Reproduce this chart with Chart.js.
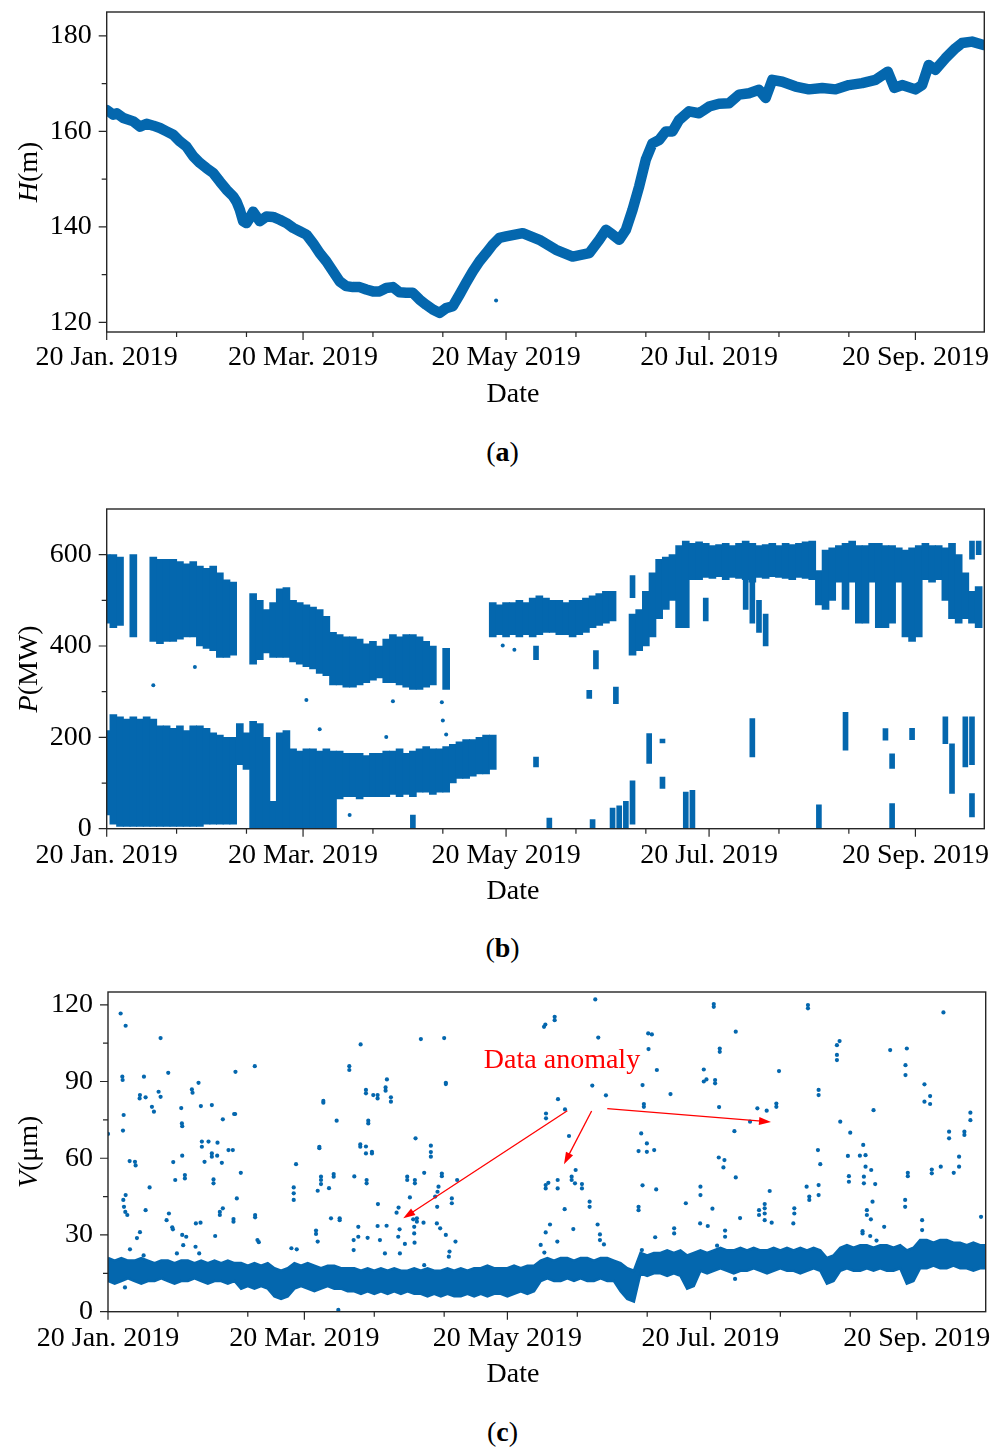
<!DOCTYPE html>
<html>
<head>
<meta charset="utf-8">
<title>Water level, output and vibration, 2019</title>
<script src="https://cdn.jsdelivr.net/npm/chart.js@4.4.1/dist/chart.umd.min.js"></script>
<style>
  body { margin: 0; background: #fff; }
  #page { position: relative; width: 999px; height: 1447px; overflow: hidden; font-family: "Liberation Serif", "Times New Roman", serif; }
  .panel { position: absolute; left: 0; }
  .caption { position: absolute; left: 0; width: 1005px; text-align: center; font-size: 28px; line-height: 32px; color: #000; }
</style>
</head>
<body>
<div id="page">
  <canvas id="chartH" class="panel" width="999" height="420" style="top:0"></canvas>
  <div class="caption" style="top:436px">(<b>a</b>)</div>
  <canvas id="chartP" class="panel" width="999" height="420" style="top:490px"></canvas>
  <div class="caption" style="top:932px">(<b>b</b>)</div>
  <canvas id="chartV" class="panel" width="999" height="420" style="top:980px"></canvas>
  <div class="caption" style="top:1416px">(<b>c</b>)</div>
</div>
<script>
var BLUE = "#0467ae";
var FONT = '"Liberation Serif", "Times New Roman", serif';

// x axis = days after 20 Jan. 2019
var dateTicks = [0, 59, 120, 181, 243];
var dateLabels = ["20 Jan. 2019", "20 Mar. 2019", "20 May 2019", "20 Jul. 2019", "20 Sep. 2019"];
var dateMinor = [21, 42, 80, 101, 141, 162, 202, 223];
var lastDay = 263.7;

// (a) water level H (m)
var levelDays = [0,2,3,5,8,10,12,14,16,18,20,22,24,26,28,30,32,34,36,38,39,40,41,42,43,44,45,46,48,50,
  52,54,56,58,60,62,64,66,68,70,72,74,76,78,80,82,84,86,88,90,92,94,96,98,100,102,104,106,108,110,
  112,114,116,118,120,125,130,135,140,145,148,150,152,154,156,158,160,162,164,166,168,170,172,175,178,181,184,187,190,193,
  196,198,200,203,207,211,215,219,223,227,231,234.7,236.7,239,243,245,247,249,252,255,257,260,263.5];
var levelValues = [164.5,163.5,163.8,162.8,162.1,161.0,161.6,161.2,160.7,160.0,159.3,157.9,156.8,154.8,153.4,152.3,151.3,149.5,147.8,146.4,145.3,143.6,141.2,140.8,141.9,143.2,142.2,141.2,142.2,142.1,
  141.5,140.8,139.8,139.1,138.4,136.6,134.5,132.8,130.7,128.6,127.6,127.4,127.4,126.9,126.5,126.5,127.2,127.4,126.3,126.2,126.2,124.8,123.7,122.7,122.0,123.0,123.4,125.8,128.3,130.7,
  132.8,134.5,136.3,137.7,138.0,138.7,137.3,135.2,133.8,134.5,137.3,139.4,138.4,137.3,139.4,143.6,148.5,154.1,157.5,158.2,160.0,160.0,162.4,164.2,163.8,165.2,165.8,165.9,167.7,168.0,
  168.7,167.0,170.8,170.4,169.4,168.8,169.1,168.8,169.7,170.1,170.8,172.5,169.1,169.7,168.8,169.7,173.9,172.9,175.3,177.4,178.5,178.8,178.1];
var levelOddDays = [117];
var levelOddValues = [124.6];

// (b) output P (MW): band ranges every 2 days
var bandDays = [0,2,4,6,8,10,12,14,16,18,20,22,24,26,28,30,32,34,36,38,40,42,44,46,48,50,52,54,56,58,
  60,62,64,66,68,70,72,74,76,78,80,82,84,86,88,90,92,94,96,98,100,102,104,106,108,110,112,114,116,118,
  120,122,124,126,128,130,132,134,136,138,140,142,144,146,148,150,152,154,156,158,160,162,164,166,168,170,172,174,176,178,
  180,182,184,186,188,190,192,194,196,198,200,202,204,206,208,210,212,214,216,218,220,222,224,226,228,230,232,234,236,238,
  240,242,244,246,248,250,252,254,256,258,260,262,264];
var upperLo = [450,440,445,null,420,null,null,410,405,410, 410,415,420,420,400,395,390,375,375,380,
  null,null,360,370,385,375,375,375,365,360, 355,350,340,335,315,315,310,310,315,320,
  325,330,320,320,315,310,305,305,310,315, null,305,null,null,null,null,null,null,420,425,
  420,425,420,425,420,425,430,430,425,425, 420,425,430,440,445,450,455,null,null,380,
  390,400,420,460,480,500,440,440,545,545, 550,548,552,545,550,548,545,540,550,548,
  552,550,548,545,550,548,545,490,480,500, 540,480,540,450,450,540,440,440,450,540,
  420,410,420,545,540,545,500,460,450,460, 450,440,null];
var upperHi = [600,600,595,null,600,null,null,595,590,590, 590,585,580,585,575,570,575,560,545,540,
  null,null,515,500,480,495,525,528,500,495, 490,485,480,465,430,425,420,420,415,405,
  410,400,415,425,420,425,425,420,410,400, null,395,null,null,null,null,null,null,495,490,
  495,495,500,495,505,510,505,500,500,495, 500,500,505,510,515,520,520,null,null,470,
  480,520,560,590,595,600,620,630,625,628, 625,620,622,625,620,625,630,625,620,622,
  625,620,625,622,625,628,630,565,610,615, 620,625,630,620,620,625,625,620,620,615,
  610,615,620,625,620,620,615,625,600,560, 520,530,null];
var lowerLo = [30,10,5,5,5,5,5,5,5,5, 5,5,5,5,5,10,10,10,10,10,
  140,130,0,0,0,0,0,0,0,0, 0,0,0,0,0,65,70,70,65,70,
  70,70,70,75,70,75,70,80,80,75, 80,80,100,110,110,115,120,120,130];
var lowerHi = [215,250,245,240,245,240,245,240,225,225, 220,225,215,225,225,220,210,205,200,200,
  230,210,235,230,200,60,210,215,175,170, 175,175,170,175,170,170,165,165,165,160,
  165,165,170,170,175,165,170,175,180,175, 175,180,185,190,195,195,200,205,205];
// smaller streaks of points
var clusterDays = [92,129,129,133,145,146,147,152,153,154,156,158,158,163,167,167,174,176,180,192,
  194,194,196,198,214,222,234,236,236,242,252,254,258,260,260,260,262];
var clusterLo = [0,135,370,0,285,0,350,0,274,0,0,10,506,143,88,188,0,0,455,480,
  450,157,430,400,0,172,194,132,0,195,186,77,135,140,26,590,600];
var clusterHi = [30,157,400,23,303,20,390,45,310,50,60,105,554,208,113,196,80,84,505,545,
  540,241,500,470,52,255,219,164,55,220,245,186,245,245,77,630,630];
var strayDays = [14,26.5,60,64,84,86,100.7,101,102,73,119,122.5];
var strayValues = [314,354,282,218,201,279,277,237,206,30,401,392];

// (c) vibration V (um): normal band every 2 days
var normalLo = [12,11,12,13,12,11,12,12,13,12,11,12,12,13,12,11,12,12,11,12,
  9,10,9,10,9, 6,5,6, 9,10,9,8,9,10,9,9,8, 8,7,8,7,8,7,8,7,8,7,
  7,6,7,6,7,6,6,7,6,7,6,7, 7,6,7,8,7,8, 12,13,12,12,13,12,13,12,12,13,12,12,
  8,5,4, 15,14,15,15,14,15,14, 9,10, 16,15,16,17,16,15,16,16,17,16,15,16,17,16,16,15,16,17,16,
  11,12, 16,17,16,16,17,16,17,16,16,17, 11,12, 17,17,18,17,17,18,17,17,16,17,17];
var normalHi = [21,20,21,20,20,21,20,19,20,20,19,20,20,19,20,19,20,19,20,19,
  19,18,19,18,19, 17,16,17, 19,18,19,18,17,18,18,17,17, 17,16,17,16,17,16,17,16,16,17,
  16,17,16,16,17,16,17,16,17,17,18,17, 17,17,18,17,18,18, 20,21,20,21,21,20,21,21,20,21,21,20,
  19,17,16, 23,22,23,23,24,23,24, 22,23, 24,23,24,25,24,24,25,24,25,24,24,25,24,25,24,25,24,25,24,
  21,22, 25,26,25,26,26,25,26,26,25,26, 24,25, 28,28,27,28,28,27,27,26,27,26,26];
var anomalyDays = [0,3.8,5.3,4.3,4.4,4.7,4.5,4.6,4.8,5.2,
  5.8,5.3,6.5,8.1,8.3,5.1,6.6,8.7,9.6,10.8,
  9.6,9.5,11.3,11.3,12.5,10.7,13.2,13.8,15.2,15.8,
  15.8,18.1,17.6,18.3,19.3,19.5,19.6,20.2,20.7,22,
  22.2,22.3,22.3,22.3,22.6,23.5,23.1,23.1,25.2,25.4,
  26.4,27.2,26.3,27.4,27.9,28.2,28.2,29,27.8,30.2,
  31.2,31.2,31.2,31.7,31.7,32.9,32.8,32.2,34.2,33.6,
  33.6,34.5,34.5,36.2,37.5,37.7,37.7,37.9,38.2,38.3,
  38.7,39.9,44.1,44.2,44.2,44.9,45.3,55.1,56.7,55.8,
  55.8,55.8,56.5,62.5,62.5,63,63.5,63.5,64,64,
  64,63,64.7,64.7,66.4,67,67.8,67.8,68.7,69.6,
  69.6,69.2,72.5,72.5,74,73.8,73.8,75.2,75.2,75.9,
  75.8,75.8,77.5,77.5,77.5,77.5,77.7,77.7,78.2,78.2,
  78,79.3,79.3,79.7,81,81,81.1,81.7,81,83.4,
  83.4,83.8,85,85,83.7,83.2,86.7,87.3,87.2,87.6,
  87.7,89.2,90.7,89.9,89.9,92.4,91.7,92.2,92.2,92,
  92,92.1,92.8,92.8,94,95,94.8,95,97,97,
  97,98.3,99,99.3,98.9,98.8,99.8,100.3,100.3,101,
  101.5,101.5,101.5,102.4,103.3,103.3,104.9,104.4,102.6,
  146.4,131,131.4,134.2,134.2,135.2,137.3,131.6,131.6,138.5,
  147.3,145.5,149.6,131.5,131.5,132.3,135.1,135.1,139.3,139.3,
  140.5,140.3,142.4,142.4,144.7,144.7,137.2,132.8,131.5,130,
  139.8,135,147.1,147.8,147.8,149,131.1,162.3,163.4,162.4,
  164.9,160.6,161,161,160.2,159.4,161.9,161.9,164.1,160.6,
  164.7,159.4,159.4,160.4,164.4,169,170.1,170.1,173.6,178,
  178,177.9,180.2,179,179,179.8,182.4,182.4,182,182,
  183.6,183.8,183.8,183.5,185.2,184.9,181.6,183,185.4,185.4,
  188.6,188.6,188.2,189.9,188.4,192.9,195.1,197.9,200.8,200.8,
  201.6,195.6,195.6,197.3,197.3,197.3,198.8,199.4,197.3,206.2,
  206.2,205.9,210.3,210.3,213.5,213.5,209.9,210.7,210.7,213.5,
  213.5,213.3,214,219,219,219,219.8,220,223,222.3,
  222.6,222.6,226.9,225.9,227.6,227.6,227.1,227.1,229.3,230.5,
  230,229.7,228,228,229.2,226.7,226.7,229,230.9,233.2,
  235,240,239.6,239.6,240.3,240.3,239.5,239.5,245.3,247,
  247,244.6,244.6,247.5,247.5,250.2,251,252.7,252.7,254.1,
  255.7,255.7,257.3,257.3,259.1,259.1,262.3,245.3];
var anomalyValues = [69.5,116.6,111.8,91.9,90.6,76.9,70.8,43.7,41,39,
  37.8,45.6,58.9,58.6,57.2,9.5,24.4,28.8,31.1,91.9,
  84.7,83.4,83.8,39.7,48.6,22,80.1,78.2,86,84,
  107,93.4,35.8,38.4,33,32.2,58.5,51.5,22.8,79.6,
  73.6,72.5,61,30,26,29.3,53.4,52.1,86.9,85.6,
  34.5,89.5,25.4,22.8,80.4,66.5,64.5,58.6,34.8,66.5,
  80.8,61.9,60.6,51.7,50.2,66.1,61,29.6,58.2,39,
  37.8,75.2,40.4,63.2,63.2,36.2,35.2,77.3,77.3,93.8,
  44.3,54.3,96,37.8,36.9,28,27.2,24.8,24.4,48.6,
  46.3,43.7,57.7,31.7,30.4,27.4,64.5,63.9,52.8,51.5,
  49.9,47.3,82.4,81.7,48.3,36.5,53.8,52.8,74.7,36.5,
  35.8,0.7,96,94.5,52.9,28,24.1,33.2,29.3,104.5,
  65.4,64.5,64.6,86.7,85.4,61.9,51.5,50.2,74.7,73.6,
  28.9,62.5,61.9,84.7,84.7,83.4,42.1,28,33.5,87.7,
  86.4,90.8,83.8,82.1,33.6,22.8,38.7,40.7,29.3,32.2,
  22.8,26.5,44.7,52.8,51.5,67.8,36.1,51.5,50.2,33.2,
  30.6,27,36.5,35.2,106.6,54.3,34.8,18.2,64.9,62.4,
  60.6,45,46.9,48.9,41,34.5,32.6,54,53,107,
  89.5,89,30,21.5,44.3,42.4,51.5,27.4,23.5,
  122.1,111.4,112.3,115.3,114,83.1,79.1,77.5,75.6,68.7,
  107.2,88.4,84.6,49.5,48.2,50.4,51.5,48.2,52.8,51.5,
  55.4,50.2,49.9,48.2,43,41,40.1,34.1,31,26.1,
  32.3,27.4,34.1,30.2,28,26.3,23.1,108.8,108.4,102.7,
  94.5,88.6,81.2,80.1,69.7,62.8,65.8,62.5,63.2,49.4,
  47.8,41,39.7,24.1,29.1,85.1,32.6,30.6,42.4,48.9,
  45.6,34.5,33.5,94.7,90,90.8,90.6,89.3,120.3,119.2,
  80,102.9,101.6,60.3,59.3,56.4,40.3,25.8,31.7,29.3,
  109.5,52.5,70.6,36.6,12.8,74.3,79.5,78.6,81.4,80.1,
  94.1,39.7,37.8,40.4,38.4,35.8,47.2,34.8,42.1,40.4,
  38.4,34.5,119.9,118.6,86.7,84.7,48.9,45,43.7,49.5,
  45.6,63.2,57.7,104.2,100.4,98.4,105.8,74.3,70,60.9,
  53,50.8,65.2,61,61.2,56.7,52.8,50.2,55.4,49.9,
  78.8,43,39.7,37.8,36.1,31.5,30.6,29.6,27.8,33.2,
  102.3,102.9,96.4,92.5,54.3,53,43.7,41,88.9,84.3,
  81.2,35.8,31.9,55.6,54.1,56.7,117,70.4,67.8,54.3,
  60.6,56.7,70.4,69.1,77.8,74.9,37.1,82.1];
// label and arrows, in data units [day, value]
var notePos = [136.4, 98];
var noteArrows = [[138.0, 78.6, 88.7, 36.5], [145.3, 78.5, 137.0, 57.7], [150.0, 79.4, 199.2, 74.2]];

function points(xs, ys) {
  var out = [];
  for (var i = 0; i < xs.length; i++) {
    if (ys[i] != null) out.push({ x: xs[i], y: ys[i] });
  }
  return out;
}
function ranges(xs, lo, hi) {
  var out = [];
  for (var i = 0; i < lo.length; i++) {
    if (lo[i] != null) out.push({ x: xs[i], y: [lo[i], hi[i]] });
  }
  return out;
}

// frame, outward ticks and axis titles
var decor = {
  id: "decor",
  afterDraw: function (chart, args, o) {
    var ctx = chart.ctx, a = chart.chartArea, x = chart.scales.x, y = chart.scales.y;
    ctx.save();
    ctx.strokeStyle = "#262626";
    ctx.lineWidth = 1.4;
    ctx.strokeRect(a.left, a.top, a.right - a.left, a.bottom - a.top);
    ctx.lineWidth = 1.2;
    ctx.beginPath();
    dateTicks.forEach(function (d) { var p = x.getPixelForValue(d); ctx.moveTo(p, a.bottom); ctx.lineTo(p, a.bottom + 8); });
    dateMinor.forEach(function (d) { var p = x.getPixelForValue(d); ctx.moveTo(p, a.bottom); ctx.lineTo(p, a.bottom + 5); });
    o.yMajor.forEach(function (v) { var p = y.getPixelForValue(v); ctx.moveTo(a.left, p); ctx.lineTo(a.left - 8, p); });
    o.yMinor.forEach(function (v) { var p = y.getPixelForValue(v); ctx.moveTo(a.left, p); ctx.lineTo(a.left - 5, p); });
    ctx.stroke();

    ctx.fillStyle = "#000";
    ctx.textBaseline = "middle";
    ctx.textAlign = "center";
    ctx.font = "28px " + FONT;
    ctx.fillText("Date", 513, o.dateY);

    ctx.translate(30, (a.top + a.bottom) / 2);
    ctx.rotate(-Math.PI / 2);
    ctx.textAlign = "left";
    ctx.font = "italic 28px " + FONT;
    var w1 = ctx.measureText(o.symbol).width;
    ctx.font = "28px " + FONT;
    var w2 = ctx.measureText(o.unit).width;
    ctx.font = "italic 28px " + FONT;
    ctx.fillText(o.symbol, -(w1 + w2) / 2, 0);
    ctx.font = "28px " + FONT;
    ctx.fillText(o.unit, -(w1 + w2) / 2 + w1, 0);
    ctx.restore();
  }
};

var anomalyNote = {
  id: "anomalyNote",
  afterDatasetsDraw: function (chart) {
    var ctx = chart.ctx, x = chart.scales.x, y = chart.scales.y;
    ctx.save();
    ctx.fillStyle = "#ff0000";
    ctx.strokeStyle = "#ff0000";
    ctx.font = "28px " + FONT;
    ctx.textAlign = "center";
    ctx.textBaseline = "middle";
    ctx.fillText("Data anomaly", x.getPixelForValue(notePos[0]), y.getPixelForValue(notePos[1]));
    noteArrows.forEach(function (ar) {
      var x0 = x.getPixelForValue(ar[0]), y0 = y.getPixelForValue(ar[1]);
      var x1 = x.getPixelForValue(ar[2]), y1 = y.getPixelForValue(ar[3]);
      var ang = Math.atan2(y1 - y0, x1 - x0), c = Math.cos(ang), s = Math.sin(ang);
      var L = 12, W = 4;
      ctx.lineWidth = 1.3;
      ctx.beginPath();
      ctx.moveTo(x0, y0);
      ctx.lineTo(x1 - L * 0.8 * c, y1 - L * 0.8 * s);
      ctx.stroke();
      ctx.beginPath();
      ctx.moveTo(x1, y1);
      ctx.lineTo(x1 - L * c + W * s, y1 - L * s - W * c);
      ctx.lineTo(x1 - L * c - W * s, y1 - L * s + W * c);
      ctx.closePath();
      ctx.fill();
    });
    ctx.restore();
  }
};

function frameOptions(box, yMin, yMax, d) {
  return {
    responsive: false,
    animation: false,
    devicePixelRatio: 1,
    events: [],
    layout: { padding: { left: 0, top: box.top, right: 999 - box.right, bottom: 0 } },
    plugins: { legend: { display: false }, tooltip: { enabled: false }, decor: d },
    scales: {
      x: {
        type: "linear", min: 0, max: lastDay, offset: false,
        grid: { display: false, drawTicks: false }, border: { display: false },
        afterBuildTicks: function (s) { s.ticks = dateTicks.map(function (v) { return { value: v }; }); },
        afterFit: function (s) { s.height = 420 - box.bottom; s.paddingLeft = 0; s.paddingRight = 0; },
        ticks: {
          autoSkip: false, maxRotation: 0, minRotation: 0, padding: box.xPad, color: "#000",
          font: { family: FONT, size: 28 },
          callback: function (v, i) { return dateLabels[i]; }
        }
      },
      y: {
        type: "linear", min: yMin, max: yMax,
        grid: { display: false, drawTicks: false }, border: { display: false },
        afterBuildTicks: function (s) { s.ticks = d.yMajor.map(function (v) { return { value: v }; }); },
        afterFit: function (s) { s.width = box.left; s.paddingTop = 0; s.paddingBottom = 0; },
        ticks: { padding: 15, color: "#000", font: { family: FONT, size: 28 }, callback: function (v) { return v; } }
      }
    }
  };
}

new Chart(document.getElementById("chartH"), {
  type: "scatter",
  data: {
    datasets: [
      {
        type: "line",
        data: points(levelDays, levelValues),
        borderColor: BLUE, borderWidth: 10.5, pointRadius: 0, tension: 0,
        borderJoinStyle: "round", borderCapStyle: "round"
      },
      { data: points(levelOddDays, levelOddValues), backgroundColor: BLUE, pointRadius: 2, borderWidth: 0 }
    ]
  },
  options: frameOptions({ left: 106.7, right: 984.3, top: 12, bottom: 332, xPad: 9 }, 118, 185,
    { yMajor: [120, 140, 160, 180], yMinor: [130, 150, 170], symbol: "H", unit: "(m)", dateY: 395 }),
  plugins: [decor]
});

new Chart(document.getElementById("chartP"), {
  type: "bar",
  data: {
    datasets: [
      { data: ranges(bandDays, upperLo, upperHi), backgroundColor: BLUE, borderWidth: 0, barThickness: 7, grouped: false },
      { data: ranges(bandDays, lowerLo, lowerHi), backgroundColor: BLUE, borderWidth: 0, barThickness: 7, grouped: false },
      { data: ranges(clusterDays, clusterLo, clusterHi), backgroundColor: BLUE, borderWidth: 0, barThickness: 5, grouped: false },
      { type: "scatter", data: points(strayDays, strayValues), backgroundColor: BLUE, pointRadius: 2, borderWidth: 0 }
    ]
  },
  options: frameOptions({ left: 106.7, right: 984.3, top: 19, bottom: 338.7, xPad: 10.5 }, 0, 700,
    { yMajor: [0, 200, 400, 600], yMinor: [100, 300, 500], symbol: "P", unit: "(MW)", dateY: 401.7 }),
  plugins: [decor]
});

new Chart(document.getElementById("chartV"), {
  type: "scatter",
  data: {
    datasets: [
      { type: "line", data: points(bandDays, normalLo), borderColor: BLUE, borderWidth: 2.5, pointRadius: 0, fill: false },
      { type: "line", data: points(bandDays, normalHi), borderColor: BLUE, borderWidth: 2.5, pointRadius: 0, fill: "-1", backgroundColor: BLUE },
      { data: points(anomalyDays, anomalyValues), backgroundColor: BLUE, pointRadius: 2.1, borderWidth: 0 }
    ]
  },
  options: frameOptions({ left: 108, right: 985.7, top: 12, bottom: 331.7, xPad: 10.5 }, 0, 125,
    { yMajor: [0, 30, 60, 90, 120], yMinor: [15, 45, 75, 105], symbol: "V", unit: "(\u03bcm)", dateY: 394.5 }),
  plugins: [decor, anomalyNote]
});
</script>
</body>
</html>
